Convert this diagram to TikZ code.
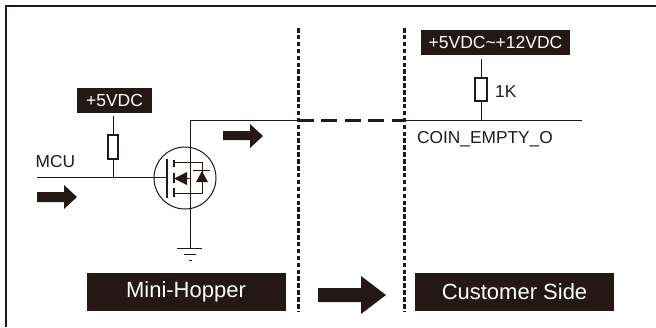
\documentclass[tikz,border=0pt]{standalone}
\usepackage{fontspec}
\setmainfont{Liberation Sans}
\definecolor{ink}{HTML}{231815}
\tikzset{
 x=1pt,y=-1pt,
 wire/.style={draw=ink,line width=0.95pt},
 lbl/.style={fill=ink,text=white,inner sep=0pt,anchor=center,font=\fontsize{#1}{#1}\selectfont},
 plain/.style={text=ink,inner sep=0pt,anchor=base west,font=\fontsize{17.3}{17.3}\selectfont},
 res/.style={draw=ink,line width=1.1pt,fill=white,minimum width=10pt,minimum height=24pt,inner sep=0pt},
 sep/.style={draw=ink,line width=2.6pt,dash pattern=on 4.5pt off 2.4pt},
 blockarrow/.style={fill=ink,draw=none},
}
\begin{document}
\begin{tikzpicture}
\useasboundingbox (0,0) rectangle (656,327);
\fill[white] (0,0) rectangle (656,327);
% frame
\draw[draw=ink,line width=1.3pt] (6,327) -- (6,6) -- (656,6);
% separators
\coordinate (s1t) at (298.5,28); \coordinate (s1b) at (298.5,312);
\coordinate (s2t) at (404.5,28); \coordinate (s2b) at (404.5,312);
\draw[sep] (s1t) -- (s1b);
\draw[sep] (s2t) -- (s2b);
% labels
\node[lbl=17.5,minimum width=75pt,minimum height=25pt] (v5) at (114.5,100.5) {+5VDC};
\node[lbl=17.5,minimum width=149pt,minimum height=25pt] (v12) at (495.5,42.5) {+5VDC\textasciitilde+12VDC};
\node[lbl=22,minimum width=199pt,minimum height=38pt] (mh) at (186,292) {\raisebox{1.5pt}{Mini-Hopper}};
\node[lbl=22,minimum width=199pt,minimum height=38pt] (cs) at (514.5,292) {Customer Side};
% resistors
\node[res] (r1) at (113,147) {};
\node[res,minimum width=12pt,minimum height=23pt] (r2) at (481,89.5) {};
\node[plain] (k1) at (495,97) {1K};
\node[plain] (mcu) at (35.5,167) {MCU};
\node[plain] (coin) at (417,143) {COIN\_EMPTY\_O};
% wires
\coordinate (r1top) at (113,116);
\coordinate (gj) at (113,177.5);
\coordinate (in) at (37,177.5);
\coordinate (gate) at (167,177.5);
\coordinate (sr) at (190.5,248);
\coordinate (corner) at (190.5,120.5);
\coordinate (l1) at (298,120.5);
\coordinate (l2) at (405,120.5);
\coordinate (oe) at (582,120.5);
\coordinate (r2top) at (481,59);
\coordinate (r2j) at (481,120.5);
\draw[wire] (in) -- (gate);
\draw[wire] (r1top) -- (r1.north);
\draw[wire] (r1.south) -- (gj);
\draw[wire] (sr) -- (corner) -- (l1);
\draw[ink,line width=3pt,dash pattern=on 15.8pt off 7.6pt] (l1) -- (l2);
\draw[wire] (l2) -- (oe);
\draw[wire] (r2top) -- (r2.north);
\draw[wire] (r2.south) -- (r2j);
% MOSFET
\node[circle,draw=ink,line width=1pt,minimum size=62pt,inner sep=0pt] (q) at (185,178) {};
\draw[ink,line width=1.2pt] (167,159) -- (167,198);
\draw[ink,line width=1.2pt] (174,160) -- (174,167) (174,173) -- (174,183) (174,188) -- (174,197);
\draw[wire] (174,162) -- (202,162) -- (202,193) -- (174,193);
\draw[wire] (190,178) -- (180,178);
\fill[ink] (174,178.5) -- (187,172) -- (187,185) -- cycle;
\fill[ink] (196,182) -- (208,182) -- (202,171) -- cycle;
\draw[ink,line width=1pt] (193,170.5) -- (210,170.5);
% ground
\draw[ink,line width=1pt] (177,248) -- (202,248);
\draw[ink,line width=0.9pt] (184,254.5) -- (196,254.5);
\draw[ink,line width=0.9pt] (189,260) -- (192,260);
% block arrows
\fill[blockarrow] (223,131) -- (250,131) -- (250,124) -- (263,136) -- (250,148) -- (250,140) -- (223,140) -- cycle;
\fill[blockarrow] (37,192) -- (64,192) -- (64,185) -- (77,197) -- (64,209) -- (64,202) -- (37,202) -- cycle;
\fill[blockarrow] (318,288) -- (361,288) -- (361,276) -- (386,295) -- (361,314) -- (361,302) -- (318,302) -- cycle;
\end{tikzpicture}
\end{document}
